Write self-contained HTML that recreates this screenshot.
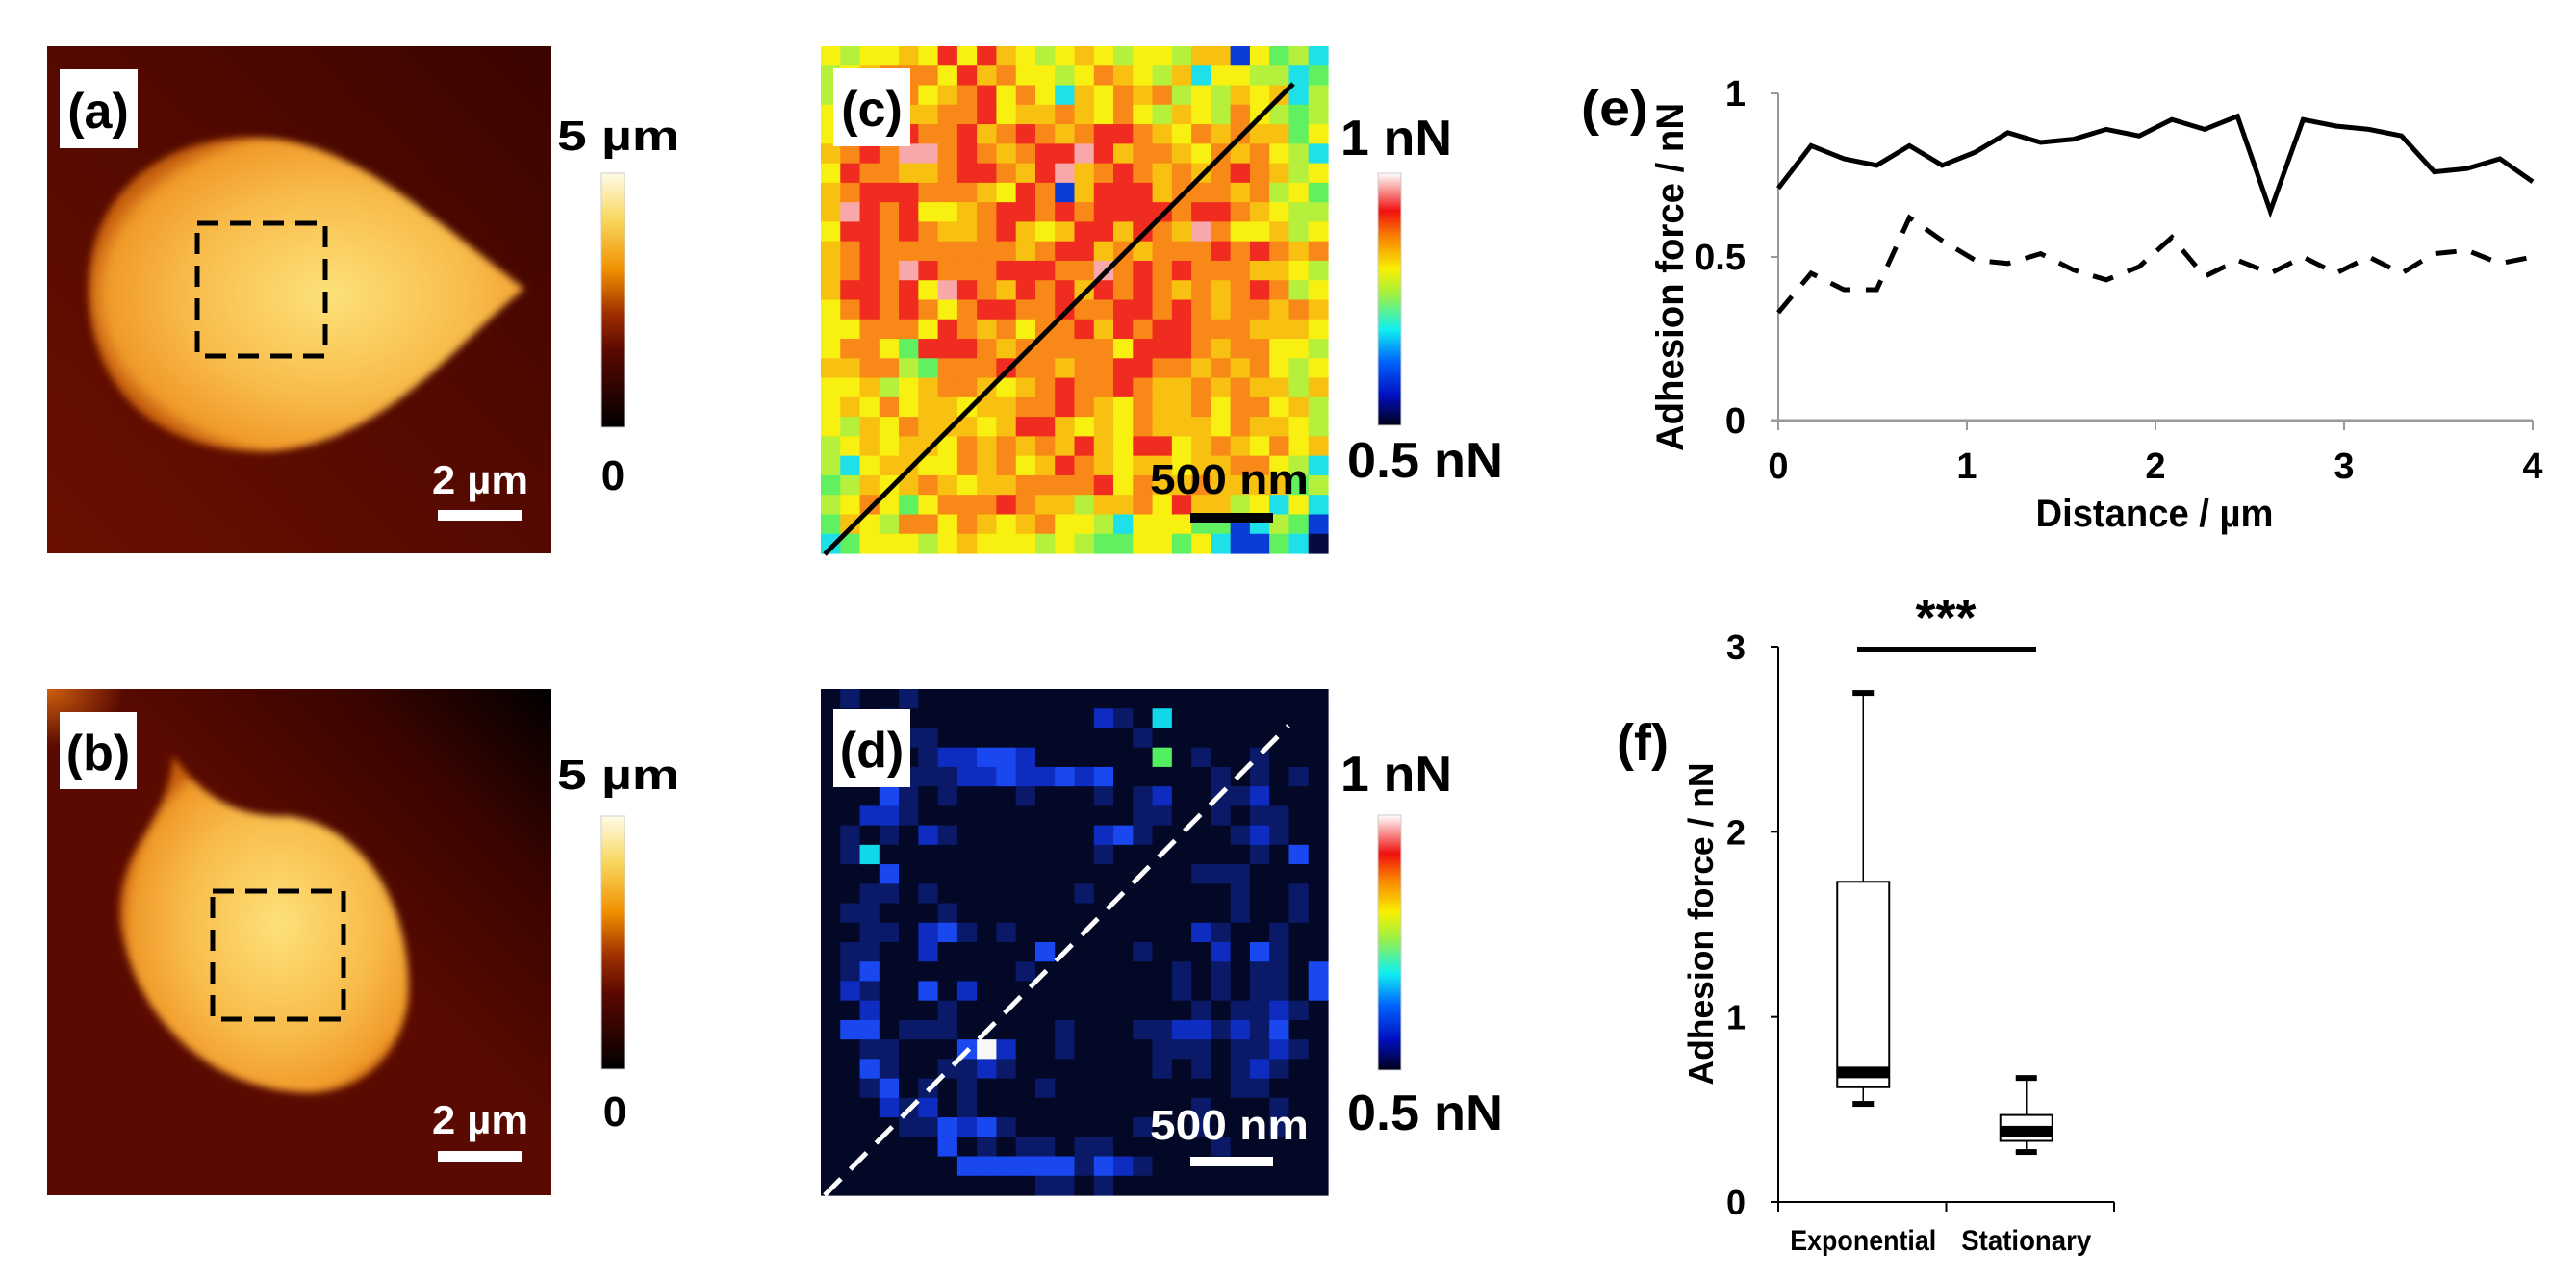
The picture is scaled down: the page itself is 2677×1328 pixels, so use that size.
<!DOCTYPE html>
<html><head><meta charset="utf-8"><style>
html,body{margin:0;padding:0;background:#fff;}
svg{display:block;}
text{font-family:"Liberation Sans",Arial,sans-serif;font-weight:bold;}
</style></head><body>
<svg id="fig" width="2677" height="1328" viewBox="0 0 2677 1328" xmlns="http://www.w3.org/2000/svg">
<defs>
<linearGradient id="hgrad" x1="0" y1="1" x2="0" y2="0">
<stop offset="0" stop-color="#000"/><stop offset="0.3" stop-color="#5a0800"/><stop offset="0.45" stop-color="#a03000"/><stop offset="0.62" stop-color="#f09000"/><stop offset="0.82" stop-color="#f8d860"/><stop offset="1" stop-color="#fffbe8"/>
</linearGradient>
<linearGradient id="jgrad" x1="0" y1="1" x2="0" y2="0">
<stop offset="0" stop-color="#00001a"/><stop offset="0.12" stop-color="#0010c0"/><stop offset="0.25" stop-color="#0060ff"/><stop offset="0.38" stop-color="#10f0f0"/><stop offset="0.52" stop-color="#a0f040"/><stop offset="0.62" stop-color="#f8f000"/><stop offset="0.75" stop-color="#f88000"/><stop offset="0.85" stop-color="#f01010"/><stop offset="1" stop-color="#ffffff"/>
</linearGradient>
<radialGradient id="blobA" cx="0.55" cy="0.5" r="0.55">
<stop offset="0" stop-color="#fde27a"/><stop offset="0.6" stop-color="#f8bb4a"/><stop offset="0.92" stop-color="#f09a2a"/><stop offset="1" stop-color="#c86010"/>
</radialGradient>
<linearGradient id="bgA" x1="0" y1="1" x2="1" y2="0">
<stop offset="0" stop-color="#6a1000"/><stop offset="0.6" stop-color="#500800"/><stop offset="1" stop-color="#3a0400"/>
</linearGradient>
<linearGradient id="bgB" x1="0" y1="1" x2="1" y2="0">
<stop offset="0" stop-color="#5a0a00"/><stop offset="0.55" stop-color="#5a0a00"/><stop offset="0.8" stop-color="#3a0400"/><stop offset="1" stop-color="#000000"/>
</linearGradient>
<radialGradient id="cornerB" cx="0" cy="0" r="1">
<stop offset="0" stop-color="#d06010"/><stop offset="1" stop-color="#d06010" stop-opacity="0"/>
</radialGradient>
<filter id="fuzz" x="-10%" y="-10%" width="120%" height="120%"><feGaussianBlur stdDeviation="4"/></filter>
</defs>

<!-- panel a -->
<g>
<rect x="49" y="48" width="524" height="527" fill="url(#bgA)"/>
<path d="M92,300 C92,200 170,143 260,143 C360,141 440,220 545,300 C470,360 400,460 280,469 C160,472 92,400 92,300 Z" fill="url(#blobA)" filter="url(#fuzz)"/>
<rect x="205" y="232" width="133" height="138" fill="none" stroke="#000" stroke-width="5" stroke-dasharray="22,12"/>
<rect x="62" y="72" width="81" height="82" fill="#fff"/>
<text x="102" y="133" font-size="52" text-anchor="middle">(a)</text>
<rect x="455" y="530" width="87" height="11" fill="#fff"/>
<text x="499" y="513" font-size="42" fill="#fff" text-anchor="middle" textLength="100" lengthAdjust="spacingAndGlyphs">2 µm</text>
<rect x="625" y="180" width="24" height="264" fill="url(#hgrad)" stroke="#ccc" stroke-width="1"/>
<text x="579" y="156" font-size="44" textLength="127" lengthAdjust="spacingAndGlyphs">5 µm</text>
<text x="637" y="509" font-size="44" text-anchor="middle">0</text>
</g>

<!-- panel b -->
<g>
<rect x="49" y="716" width="524" height="526" fill="url(#bgB)"/>
<rect x="49" y="716" width="80" height="60" fill="url(#cornerB)"/>
<path d="M180,785 C210,830 250,850 300,848 C390,860 430,960 424,1040 C415,1110 360,1140 310,1135 C220,1130 140,1060 125,960 C118,880 175,860 180,785 Z" fill="url(#blobA)" filter="url(#fuzz)"/>
<rect x="221" y="926" width="136" height="133" fill="none" stroke="#000" stroke-width="5" stroke-dasharray="22,12"/>
<rect x="62" y="740" width="80" height="80" fill="#fff"/>
<text x="102" y="800" font-size="52" text-anchor="middle">(b)</text>
<rect x="455" y="1196" width="87" height="11" fill="#fff"/>
<text x="499" y="1178" font-size="42" fill="#fff" text-anchor="middle" textLength="100" lengthAdjust="spacingAndGlyphs">2 µm</text>
<rect x="625" y="848" width="24" height="263" fill="url(#hgrad)" stroke="#ccc" stroke-width="1"/>
<text x="579" y="820" font-size="44" textLength="127" lengthAdjust="spacingAndGlyphs">5 µm</text>
<text x="639" y="1170" font-size="44" text-anchor="middle">0</text>
</g>

<!-- panel c / d -->
<g id="gc"></g>
<g id="gd"></g>
<g>
<rect x="1432" y="180" width="24" height="262" fill="url(#jgrad)" stroke="#ccc"/>
<text x="1393" y="161" font-size="52" textLength="116" lengthAdjust="spacingAndGlyphs">1 nN</text>
<text x="1400" y="496" font-size="52" textLength="162" lengthAdjust="spacingAndGlyphs">0.5 nN</text>
<rect x="1432" y="847" width="24" height="265" fill="url(#jgrad)" stroke="#ccc"/>
<text x="1393" y="822" font-size="52" textLength="116" lengthAdjust="spacingAndGlyphs">1 nN</text>
<text x="1400" y="1174" font-size="52" textLength="162" lengthAdjust="spacingAndGlyphs">0.5 nN</text>
</g>

<g id="ge"></g>
<g id="gf"></g>
</svg>
<script>
const NS="http://www.w3.org/2000/svg";
function mk(tag,attrs,parent){const e=document.createElementNS(NS,tag);for(const k in attrs)e.setAttribute(k,attrs[k]);parent.appendChild(e);return e;}

// ---- heatmap data (c) digits 0..9 -> 0.5..1 nN
const heatC=[
"54556585865456545546615342","45677758675545765462554423","46787567857526576745465624",
"56786677856676575465475434","56778778678767887657676635","67879978767889867765767542",
"58776678876896787676787645","67888777658716888677767453","69878556788787888878876544",
"58878766786568868769755645","67877777776788676777878767","67879877788877978787776654",
"68878598768786878767678745","57878757887787788787677676","55777587675778687887776665",
"57753888767777758887677554","66774377787767788776767545","55645677656787787667676646",
"56575665667787657667577564","54657666568865657666576654","45656657676768658856765756",
"42566557675687656656677542","34656765667777857667666634","45753577787664667586645252",
"36547757656755425553312431","23555456555454335535211320"];
// ---- heatmap data (d)
const heatD=[
"01001000000000000000000000","00010000000000210c00000000","00101100000000001000000000",
"00000122332000000g01001000","00011112232232300000101010","00031010001000101200112000",
"00221000000000001100101100","01010210000000231000012100","01c00000000000100000001030",
"00030000000000000001110000","00110100000001000000010010","01100010000000000000010010",
"00110231010000000002100100","01100200000300001000203100","01300000001000000010101103",
"02100302000000000010101103","00200010000000000001011210","03301110000010001122121300",
"00110003w20010000111011210","00310011210000000101012100","00130101000100000000011000",
"00021201000000000001000100","00001132310000001001000100","00000030101101100000100000",
"00000003333331321000000000","00000000000110100000000000"];
const jetC={"0":"#050a40","1":"#0a3cd8","2":"#1ee0e8","3":"#60f060","4":"#b4f03c","5":"#f8f010","6":"#f8c010","7":"#f88818","8":"#f02c20","9":"#f8a8a8"};
const jetD={"0":"#030826","1":"#0a1a68","2":"#0e2cc0","3":"#1a48f0","c":"#10d8e8","g":"#50f060","w":"#f8f8f8"};

function heatmap(g,rows,cmap,x0,y0,w,h,name){
  const n=rows.length,m=rows[0].length,cw=w/m,ch=h/n;
  for(let r=0;r<n;r++)for(let c=0;c<m;c++){
    const e=mk("rect",{x:x0+c*cw,y:y0+r*ch,width:cw+0.6,height:ch+0.6,fill:cmap[rows[r][c]]},g);
    
    
  }
}
(function(){
 const gc=document.getElementById("gc");
 heatmap(gc,heatC,jetC,853,48,527,527,"heat-cell-c");
 let e=mk("line",{x1:857,y1:576,x2:1344,y2:87,stroke:"#000","stroke-width":5},gc);
 
 
 e=mk("rect",{x:866,y:71,width:80,height:81,fill:"#fff"},gc);
 
 
 e=mk("text",{x:906,y:131,"font-size":52,"text-anchor":"middle"},gc);e.textContent="(c)";
 
 
 e=mk("rect",{x:1237,y:533,width:86,height:10,fill:"#000"},gc);
 
 
 e=mk("text",{x:1195,y:513,"font-size":44,textLength:165,lengthAdjust:"spacingAndGlyphs"},gc);e.textContent="500 nm";
 
 

 const gd=document.getElementById("gd");
 heatmap(gd,heatD,jetD,853,716,527,526,"heat-cell-d");
 e=mk("line",{x1:857,y1:1242,x2:1339,y2:754,stroke:"#fff","stroke-width":5,"stroke-dasharray":"24,14"},gd);
 
 
 e=mk("rect",{x:866,y:737,width:80,height:81,fill:"#fff"},gd);
 
 
 e=mk("text",{x:906,y:797,"font-size":52,"text-anchor":"middle"},gd);e.textContent="(d)";
 
 
 e=mk("rect",{x:1237,y:1202,width:86,height:10,fill:"#fff"},gd);
 
 
 e=mk("text",{x:1195,y:1184,"font-size":44,fill:"#fff",textLength:165,lengthAdjust:"spacingAndGlyphs"},gd);e.textContent="500 nm";
 
 
})();

// ---- line chart (e)
const eXTicks=[0,1,2,3,4];
const eYTicks=[0,0.5,1];
const eYTickLabels=["0","0.5","1"];
const eSolid=[0.71,0.84,0.80,0.78,0.84,0.78,0.82,0.88,0.85,0.86,0.89,0.87,0.92,0.89,0.93,0.64,0.92,0.90,0.89,0.87,0.76,0.77,0.80,0.73];
const eDashed=[0.33,0.45,0.40,0.40,0.62,0.55,0.49,0.48,0.51,0.46,0.43,0.47,0.56,0.44,0.49,0.45,0.50,0.45,0.50,0.45,0.51,0.52,0.48,0.50];
const eXMax=4;
(function(){
 const g=document.getElementById("ge");
 const X0=1848,X1=2632,Y0=437,Y1=97;
 const sx=v=>X0+(X1-X0)*v/eXMax, sy=v=>Y0-(Y0-Y1)*v/1;
 let e=mk("line",{x1:X0,y1:Y1,x2:X0,y2:Y0,stroke:"#999","stroke-width":2},g);
 
 
 e=mk("line",{x1:X0-8,y1:Y0,x2:X1,y2:Y0,stroke:"#999","stroke-width":3},g);
 
 
 eYTicks.forEach((v,i)=>{
  let t=mk("line",{x1:X0-8,y1:sy(v),x2:X0,y2:sy(v),stroke:"#999","stroke-width":2},g);
  
  
  t=mk("text",{x:1814,y:sy(v)+13,"font-size":38,"text-anchor":"end"},g);t.textContent=eYTickLabels[i];
  
  
 });
 eXTicks.forEach(v=>{
  let t=mk("line",{x1:sx(v),y1:Y0,x2:sx(v),y2:Y0+10,stroke:"#999","stroke-width":2},g);
  
  
  t=mk("text",{x:sx(v),y:497,"font-size":38,"text-anchor":"middle"},g);t.textContent=String(v);
  
  
 });
 const pts=a=>a.map((v,i)=>sx(i*eXMax/(a.length-1)).toFixed(1)+","+sy(v).toFixed(1)).join(" ");
 e=mk("polyline",{points:pts(eSolid),fill:"none",stroke:"#000","stroke-width":5,"stroke-linejoin":"miter"},g);
 
 
 e=mk("polyline",{points:pts(eDashed),fill:"none",stroke:"#000","stroke-width":5,"stroke-dasharray":"22,16"},g);
 
 
 e=mk("text",{x:2239,y:547,"font-size":40,"text-anchor":"middle",textLength:247,lengthAdjust:"spacingAndGlyphs"},g);e.textContent="Distance / µm";
 
 
 e=mk("text",{x:0,y:0,"font-size":40,"text-anchor":"middle",textLength:362,lengthAdjust:"spacingAndGlyphs",transform:"translate(1749,288) rotate(-90)"},g);e.textContent="Adhesion force / nN";
 
 
 e=mk("text",{x:1643,y:130,"font-size":52,textLength:70,lengthAdjust:"spacingAndGlyphs"},g);e.textContent="(e)";
 
 
})();

// ---- box plot (f)
const fCategories=["Exponential","Stationary"];
const fMin=[0.53,0.27];
const fQ1=[0.62,0.33];
const fMedian=[0.70,0.38];
const fQ3=[1.73,0.47];
const fMax=[2.75,0.67];
const fYTicks=[0,1,2,3];
(function(){
 const g=document.getElementById("gf");
 const X0=1848,X1=2197,Y0=1249,Y1=672;
 const sy=v=>Y0-(Y0-Y1)*v/3;
 const band=(X1-X0)/fCategories.length;
 let e=mk("line",{x1:X0,y1:Y1,x2:X0,y2:Y0,stroke:"#000","stroke-width":2},g);
 
 
 e=mk("line",{x1:X0-8,y1:Y0,x2:X1,y2:Y0,stroke:"#000","stroke-width":2},g);
 
 
 for(let i=0;i<=fCategories.length;i++){
  let t=mk("line",{x1:X0+band*i,y1:Y0,x2:X0+band*i,y2:Y0+10,stroke:"#000","stroke-width":2},g);
  
  
 }
 fYTicks.forEach(v=>{
  let t=mk("line",{x1:X0-8,y1:sy(v),x2:X0,y2:sy(v),stroke:"#000","stroke-width":2},g);
  
  
  t=mk("text",{x:1814,y:sy(v)+13,"font-size":36,"text-anchor":"end"},g);t.textContent=String(v);
  
  
 });
 fCategories.forEach((c,i)=>{
  const cx=X0+band*(i+0.5)+(i===0?1:-4), bw=54;
  let t=mk("line",{x1:cx,y1:sy(fMax[i]),x2:cx,y2:sy(fQ3[i]),stroke:"#000","stroke-width":1.5},g);
  
  
  t=mk("line",{x1:cx,y1:sy(fQ1[i]),x2:cx,y2:sy(fMin[i]),stroke:"#000","stroke-width":1.5},g);
  
  
  t=mk("rect",{x:cx-bw/2,y:sy(fQ3[i]),width:bw,height:sy(fQ1[i])-sy(fQ3[i]),fill:"#fff",stroke:"#000","stroke-width":2},g);
  
  
  t=mk("rect",{x:cx-bw/2,y:sy(fMedian[i])-6,width:bw,height:12,fill:"#000"},g);
  
  
  t=mk("rect",{x:cx-11,y:sy(fMax[i])-3,width:22,height:6,fill:"#000"},g);
  
  
  t=mk("rect",{x:cx-11,y:sy(fMin[i])-3,width:22,height:6,fill:"#000"},g);
  
  
  t=mk("text",{x:cx,y:1299,"font-size":30,"text-anchor":"middle",textLength:(i===0?152:135),lengthAdjust:"spacingAndGlyphs"},g);t.textContent=c;
  
  
 });
 e=mk("line",{x1:1930,y1:675,x2:2116,y2:675,stroke:"#000","stroke-width":6},g);
 
 
 e=mk("text",{x:2022,y:660,"font-size":54,"text-anchor":"middle"},g);e.textContent="***";
 
 
 e=mk("text",{x:0,y:0,"font-size":36,"text-anchor":"middle",textLength:335,lengthAdjust:"spacingAndGlyphs",transform:"translate(1780,960) rotate(-90)"},g);e.textContent="Adhesion force / nN";
 
 
 e=mk("text",{x:1680,y:790,"font-size":54},g);e.textContent="(f)";
 
 
})();
</script>
</body></html>
